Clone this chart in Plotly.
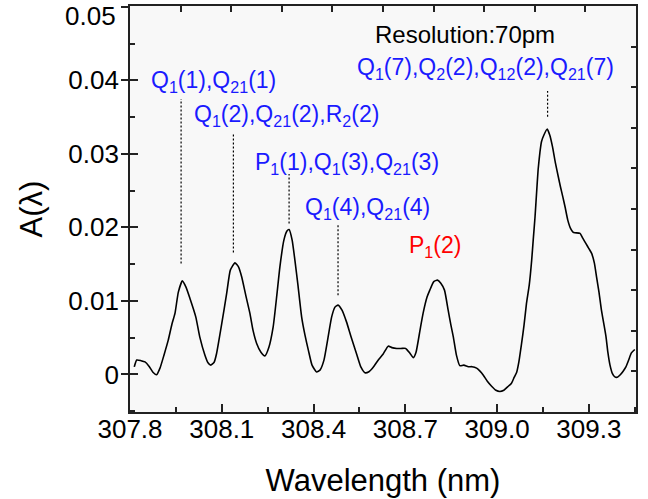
import plotly.graph_objects as go

# Absorbance spectrum A(lambda)
wavelength = [307.814, 307.822, 307.836, 307.849, 307.862, 307.875, 307.887, 307.898, 307.911, 307.925,
              307.937, 307.947, 307.958, 307.971, 307.983, 307.996, 308.015, 308.028, 308.045, 308.055,
              308.064, 308.075, 308.083, 308.100, 308.116, 308.128, 308.143, 308.155, 308.165, 308.179,
              308.192, 308.202, 308.214, 308.228, 308.241, 308.254, 308.268, 308.280, 308.290, 308.303,
              308.313, 308.320, 308.330, 308.339, 308.349, 308.361, 308.372, 308.383, 308.395, 308.410,
              308.421, 308.434, 308.447, 308.459, 308.470, 308.480, 308.493, 308.508, 308.522, 308.541,
              308.555, 308.568, 308.581, 308.595, 308.611, 308.627, 308.644, 308.656, 308.672, 308.686,
              308.701, 308.715, 308.726, 308.735, 308.748, 308.758, 308.771, 308.780, 308.793, 308.805,
              308.816, 308.828, 308.840, 308.849, 308.857, 308.867, 308.878, 308.891, 308.906, 308.918,
              308.933, 308.944, 308.955, 308.968, 308.982, 308.996, 309.009, 309.022, 309.035, 309.047,
              309.056, 309.064, 309.071, 309.080, 309.088, 309.096, 309.105, 309.113, 309.118, 309.124,
              309.129, 309.134, 309.140, 309.145, 309.153, 309.164, 309.172, 309.181, 309.190, 309.200,
              309.207, 309.215, 309.222, 309.231, 309.240, 309.248, 309.254, 309.271, 309.280, 309.290,
              309.300, 309.309, 309.318, 309.325, 309.333, 309.341, 309.349, 309.356, 309.362, 309.369,
              309.377, 309.385, 309.393, 309.401, 309.412, 309.421, 309.431, 309.439, 309.450]
absorbance = [0.00103, 0.00197, 0.00188, 0.00171, 0.00113, 0.00031, -0.00003, 0.00086, 0.00263, 0.00467,
              0.00684, 0.00830, 0.01120, 0.01273, 0.01188, 0.01034, 0.00784, 0.00512, 0.00263, 0.00160,
              0.00127, 0.00167, 0.00286, 0.00694, 0.01102, 0.01419, 0.01518, 0.01460, 0.01328, 0.01065,
              0.00830, 0.00603, 0.00422, 0.00303, 0.00253, 0.00371, 0.00648, 0.01079, 0.01464, 0.01827,
              0.01950, 0.01970, 0.01827, 0.01555, 0.01215, 0.00784, 0.00535, 0.00331, 0.00127, 0.00035,
              0.00059, 0.00195, 0.00494, 0.00780, 0.00916, 0.00943, 0.00875, 0.00712, 0.00521, 0.00276,
              0.00099, 0.00024, 0.00038, 0.00099, 0.00195, 0.00276, 0.00385, 0.00365, 0.00354, 0.00354,
              0.00354, 0.00290, 0.00229, 0.00303, 0.00603, 0.00830, 0.01052, 0.01147, 0.01263, 0.01283,
              0.01242, 0.01147, 0.00875, 0.00671, 0.00507, 0.00263, 0.00120, 0.00127, 0.00106, 0.00106,
              0.00086, 0.00045, -0.00010, -0.00091, -0.00159, -0.00214, -0.00231, -0.00214, -0.00166, -0.00118,
              -0.00037, 0.00031, 0.00167, 0.00422, 0.00671, 0.00966, 0.01215, 0.01555, 0.01827, 0.02144,
              0.02467, 0.02780, 0.03024, 0.03165, 0.03256, 0.03337, 0.03256, 0.03097, 0.02888, 0.02688,
              0.02552, 0.02412, 0.02280, 0.02099, 0.01986, 0.01936, 0.01927, 0.01918, 0.01854, 0.01782,
              0.01712, 0.01646, 0.01514, 0.01328, 0.01120, 0.00875, 0.00684, 0.00512, 0.00303, 0.00127,
              0.00011, -0.00033, -0.00037, -0.00010, 0.00045, 0.00103, 0.00208, 0.00294, 0.00340]

# Dotted marker lines for assigned peaks
marker_wavelength = [307.967, 308.138, 308.320, 308.480, 309.165]
marker_top = [0.03746, 0.03287, 0.02725, 0.02031, 0.03854]
marker_bottom = [0.01510, 0.01660, 0.02054, 0.01079, 0.03505]

# Tick labels
x_tickvals = [307.8, 308.1, 308.4, 308.7, 309.0, 309.3]
x_ticktext = ["307.8", "308.1", "308.4", "308.7", "309.0", "309.3"]
y_tickvals = [0, 0.01, 0.02, 0.03, 0.04, 0.05]
y_ticktext = ["0", "0.01", "0.02", "0.03", "0.04", ""]
y_top_label = "0.05"

FONT = "Liberation Sans, Arial, sans-serif"
BLUE = "#1a1aff"
AX = "#222222"

fig = go.Figure()
fig.add_trace(go.Scatter(x=wavelength, y=absorbance, mode="lines",
                         line=dict(color="black", width=1.6, shape="spline", smoothing=0.5),
                         showlegend=False, hoverinfo="skip"))
for lam, y0, y1 in zip(marker_wavelength, marker_bottom, marker_top):
    fig.add_trace(go.Scatter(x=[lam, lam], y=[y0, y1], mode="lines",
                             line=dict(color="black", width=1.2, dash="2px,2px"),
                             showlegend=False, hoverinfo="skip"))

labels = [
    ("Q<sub>1</sub>(1),Q<sub>21</sub>(1)", 308.0735, 0.0398, BLUE),
    ("Q<sub>1</sub>(2),Q<sub>21</sub>(2),R<sub>2</sub>(2)", 308.31, 0.03528, BLUE),
    ("P<sub>1</sub>(1),Q<sub>1</sub>(3),Q<sub>21</sub>(3)", 308.509, 0.02875, BLUE),
    ("Q<sub>1</sub>(4),Q<sub>21</sub>(4)", 308.576, 0.02263, BLUE),
    ("P<sub>1</sub>(2)", 308.797, 0.01746, "#ff0000"),
    ("Q<sub>1</sub>(7),Q<sub>2</sub>(2),Q<sub>12</sub>(2),Q<sub>21</sub>(7)", 308.963, 0.04167, BLUE),
]
annotations = [dict(text=t, x=x, y=y, xref="x", yref="y", showarrow=False,
                    xanchor="center", yanchor="middle",
                    font=dict(family=FONT, size=23, color=c)) for t, x, y, c in labels]
annotations.append(dict(text="Resolution:70pm", x=308.895, y=0.04616, xref="x", yref="y",
                        showarrow=False, xanchor="center", yanchor="middle",
                        font=dict(family=FONT, size=24, color="black")))
# top y tick label, drawn a little lower than its tick as in the original
plot_h = 499 - 6 - 87
annotations.append(dict(text=y_top_label, x=0, y=1 - 10 / plot_h, xref="paper", yref="paper",
                        yanchor="middle", xanchor="right", xshift=-12, showarrow=False,
                        font=dict(family=FONT, size=26, color="black")))

fig.update_layout(
    width=648, height=499,
    margin=dict(l=130, r=12, t=6, b=87),
    paper_bgcolor="white", plot_bgcolor="#f8f8f8",
    font=dict(family=FONT, color="black"),
    showlegend=False,
    annotations=annotations,
    xaxis=dict(range=[307.8, 309.454], tickvals=x_tickvals, ticktext=x_ticktext,
               ticks="inside", ticklen=8, tickwidth=1.5, tickcolor=AX, ticklabelstandoff=-7,
               minor=dict(tickvals=[307.95, 308.25, 308.55, 308.85, 309.15, 309.45],
                          ticks="inside", ticklen=5, tickwidth=1.5, tickcolor=AX),
               showline=True, linecolor=AX, linewidth=1.8, showgrid=False, zeroline=False,
               tickfont=dict(size=26, family=FONT, color="black"),
               title=dict(text="Wavelength (nm)", font=dict(size=31, family=FONT), standoff=26)),
    yaxis=dict(range=[-0.0051, 0.0501], tickvals=y_tickvals, ticktext=y_ticktext,
               ticks="outside", ticklen=7, tickwidth=1.5, tickcolor=AX, ticklabelstandoff=-3,
               minor=dict(tickvals=[-0.005, 0.005, 0.015, 0.025, 0.035, 0.045],
                          ticks="inside", ticklen=5, tickwidth=1.5, tickcolor=AX),
               showline=True, linecolor=AX, linewidth=1.8, showgrid=False, zeroline=False,
               tickfont=dict(size=26, family=FONT, color="black"),
               title=dict(text="A(λ)", font=dict(size=31, family=FONT), standoff=16)),
    xaxis2=dict(overlaying="x", side="top", range=[0, 10], dtick=1, tick0=0,
                ticks="inside", ticklen=6, tickwidth=1.5, tickcolor=AX, showticklabels=False,
                showline=True, linecolor=AX, linewidth=1.8, showgrid=False, zeroline=False),
    yaxis2=dict(overlaying="y", side="right", range=[0, 10], dtick=1, tick0=0,
                ticks="inside", ticklen=5, tickwidth=1.5, tickcolor=AX, showticklabels=False,
                showline=True, linecolor=AX, linewidth=1.8, showgrid=False, zeroline=False),
    yaxis3=dict(overlaying="y", side="left", matches="y", tickvals=y_tickvals,
                ticks="inside", ticklen=8, tickwidth=1.5, tickcolor=AX, showticklabels=False,
                showline=False, showgrid=False, zeroline=False),
)

# dummy traces to activate the frame axes
fig.add_trace(go.Scatter(x=[None], y=[None], xaxis="x2", yaxis="y2", showlegend=False, hoverinfo="skip"))
fig.add_trace(go.Scatter(x=[None], y=[None], xaxis="x", yaxis="y3", showlegend=False, hoverinfo="skip"))

fig.write_html("out.html", config={"displayModeBar": False},
               post_script="document.body.style.margin='0';")
